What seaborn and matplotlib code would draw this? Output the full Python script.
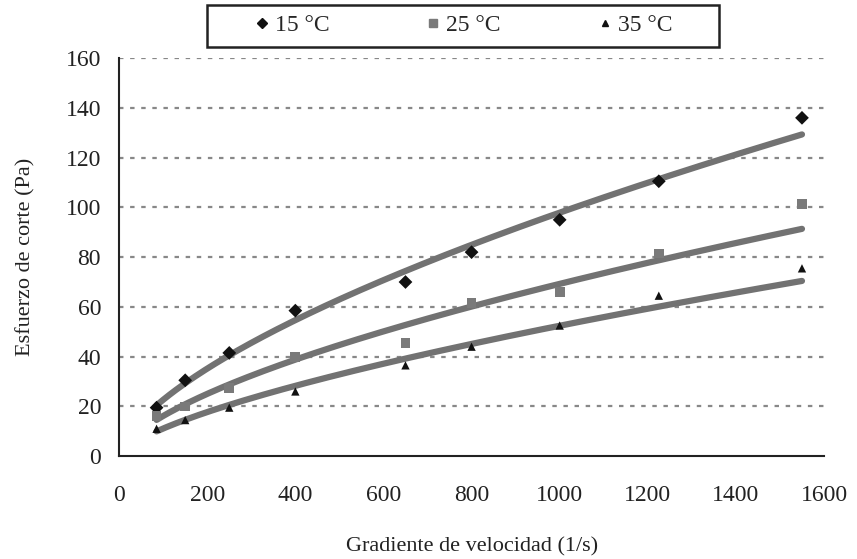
import numpy as np
import pandas as pd
import seaborn as sns
import matplotlib.pyplot as plt
from matplotlib.lines import Line2D
from matplotlib.patches import Rectangle

# Datos
gradiente = [85, 150, 250, 400, 650, 800, 1000, 1225, 1550]
esf_15 = [19.5, 30.5, 41.5, 58.5, 70, 82, 95, 110.5, 136]
esf_25 = [16, 20, 27.5, 40, 45.5, 61.5, 66, 81.5, 101.5]
esf_35 = [11, 14.5, 19.5, 26, 36.5, 44, 52.5, 64.5, 75.5]
temperaturas = ["15 °C", "25 °C", "35 °C"]

series = {"15 °C": esf_15, "25 °C": esf_25, "35 °C": esf_35}
df = pd.DataFrame([(g, v, t) for t, vals in series.items() for g, v in zip(gradiente, vals)],
                  columns=["gradiente", "esfuerzo", "temp"])

# Ajuste potencial (linea de tendencia) a partir de los puntos
xs = np.linspace(min(gradiente), max(gradiente), 200)
fits = []
for t in temperaturas:
    d = df[df.temp == t]
    b, a = np.polyfit(np.log(d.gradiente), np.log(d.esfuerzo), 1)
    fits.append(pd.DataFrame({"gradiente": xs, "esfuerzo": np.exp(a) * xs ** b, "temp": t}))
df_fit = pd.concat(fits)

sns.set_style("white")
plt.rcParams["font.family"] = ["Liberation Serif", "DejaVu Serif"]

fig = plt.figure(figsize=(8.57, 5.59), dpi=100)
ax = fig.add_axes([0.139, 0.184, 0.8225, 0.712])

markers = {"15 °C": "D", "25 °C": "s", "35 °C": "^"}
colores = {"15 °C": "#111111", "25 °C": "#7a7a7a", "35 °C": "#111111"}
tamanos = {"15 °C": 7, "25 °C": 7, "35 °C": 6}

for t in temperaturas:
    d = df[df.temp == t]
    sns.scatterplot(data=d, x="gradiente", y="esfuerzo", marker=markers[t], color=colores[t],
                    s=tamanos[t] ** 2, edgecolor="none", ax=ax, zorder=3, legend=False)
sns.lineplot(data=df_fit, x="gradiente", y="esfuerzo", units="temp", estimator=None,
             color="#727272", linewidth=4.5, ax=ax, zorder=2, legend=False)

ax.set_xlim(0, 1600)
ax.set_ylim(0, 160)
ax.set_xticks(range(0, 1601, 200))
ax.set_yticks(range(0, 161, 20))
for yv in range(20, 161, 20):
    ax.axhline(yv, color="#888888", linestyle=(0, (2, 3)), linewidth=1.6, zorder=1)

for s in ["top", "right"]:
    ax.spines[s].set_visible(False)
for s in ["left", "bottom"]:
    ax.spines[s].set_color("#222222")
    ax.spines[s].set_linewidth(1.5)
ax.tick_params(axis="both", direction="inout", length=8, width=1.2, color="#222222",
               labelsize=17, labelcolor="#222222")
ax.tick_params(axis="x", pad=17)
ax.tick_params(axis="y", pad=9)
ax.set_xlabel("Gradiente de velocidad (1/s)", fontsize=16, labelpad=22, color="#222222")
ax.set_ylabel("Esfuerzo de corte (Pa)", fontsize=16, labelpad=22, color="#222222")

# Leyenda arriba, con marco propio
handles = [Line2D([], [], linestyle="none", marker=markers[t], color=colores[t],
                  markersize=tamanos[t] - 1.5) for t in temperaturas]
fig.legend(handles, temperaturas, loc="center", ncol=3, bbox_to_anchor=(0.538, 0.954),
           frameon=False, fontsize=17, handletextpad=0.05, columnspacing=3.9,
           handlelength=1.0, borderaxespad=0)
fig.patches.append(Rectangle((207 / 857, 1 - 47 / 559), 512 / 857, 42 / 559,
                             transform=fig.transFigure, fill=False,
                             edgecolor="#222222", linewidth=1.8))

fig.savefig("out.png", dpi=100)
